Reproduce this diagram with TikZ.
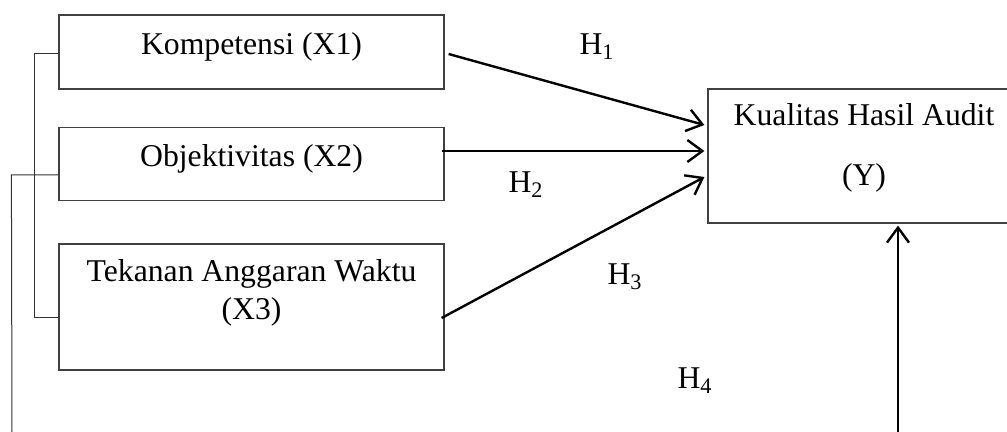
\documentclass[tikz,border=0pt]{standalone}
\usepackage{fontspec}
\setmainfont{Liberation Serif}
\usetikzlibrary{arrows.meta}
\tikzset{
	varbox/.style={draw=black!75, line width=0.6pt, minimum width=192.5pt, align=center, inner sep=0pt},
	hyp/.style={line width=1.2pt, -{Straight Barb[length=7.5pt,width=11pt,line width=1.2pt]}},
	link/.style={draw=black!80, line width=0.5pt}
}
\begin{document}
\begin{tikzpicture}[x=0.5pt,y=-0.5pt,font=\fontsize{15.85}{19}\selectfont]
	\useasboundingbox (0,0) rectangle (1007,432);
	\node[varbox, minimum height=37pt, text depth=8pt] at (251.5,52) (x1) {Kompetensi (X1)};
	\node[varbox, minimum height=36.5pt, text depth=8pt] at (251.5,164) (x2) {Objektivitas (X2)};
	\node[varbox, minimum height=63pt, text depth=17pt] at (251.5,307) (x3) {Tekanan Anggaran Waktu\\(X3)};
	\node[varbox, minimum width=156pt, minimum height=67pt, text depth=11pt, font=\fontsize{15.85}{30}\selectfont] at (864,156) (y) {Kualitas Hasil Audit\\(Y)};
	\node at (597,47) (h1) {H\textsubscript{1}};
	\node at (526,185) (h2) {H\textsubscript{2}};
	\node at (625,277) (h3) {H\textsubscript{3}};
	\node at (695,381) (h4) {H\textsubscript{4}};
	\coordinate (lbot) at (12,432);
	\coordinate (rbot) at (898,432);
	% hubungan X ke Y
	\draw[hyp] ([xshift=2pt,yshift=-1pt]x1.east) -- ([xshift=-1.5pt,yshift=15.5pt]y.west);
	\draw[hyp] ([xshift=-1.5pt,yshift=6.5pt]x2.east) -- ([xshift=-1.5pt,yshift=2.5pt]y.west);
	\draw[hyp] ([xshift=-1.5pt,yshift=-5.5pt]x3.east) -- ([xshift=-1.5pt,yshift=-10.5pt]y.west);
	% simultan
	\draw[link] ([yshift=-1pt]x1.west) -- ++(-24,0) |- ([yshift=-5.5pt]x3.west);
	\draw[link] ([yshift=-5.5pt]x2.west) -- ++(-47,0) -- (lbot);
	\draw[hyp] (rbot) -- ([xshift=17pt,yshift=-1pt]y.south);
\end{tikzpicture}
\end{document}
